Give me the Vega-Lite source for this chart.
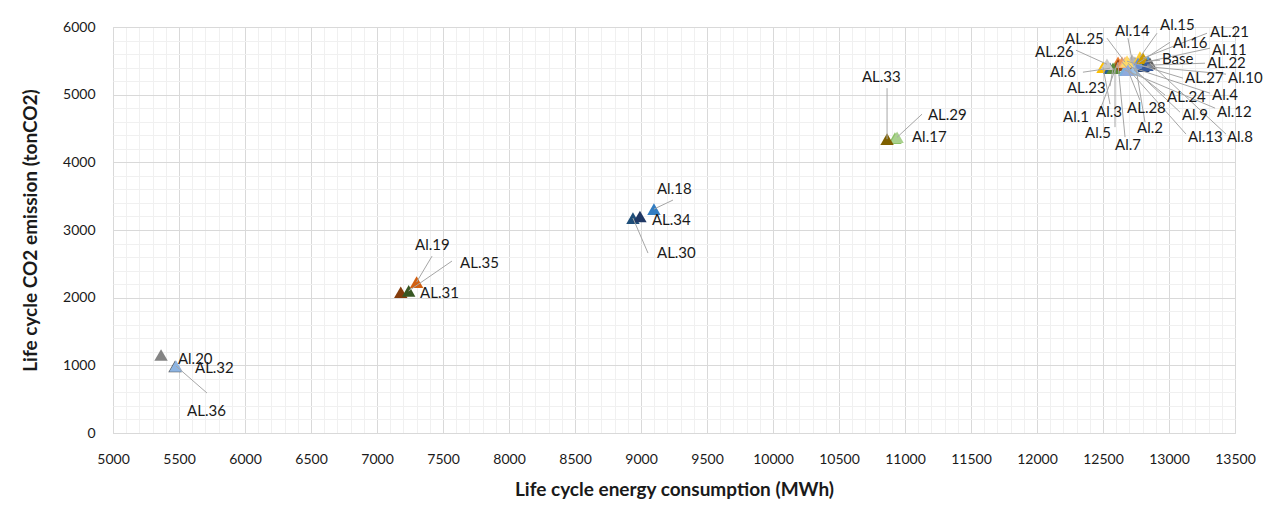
{
  "$schema": "https://vega.github.io/schema/vega-lite/v6.json",
  "width": 1122,
  "height": 406,
  "autosize": {"type": "none"},
  "padding": {"left": 113, "top": 27, "right": 34, "bottom": 77},
  "background": "white",
  "config": {
    "view": {"stroke": "#d9d9d9"},
    "font": "Lato",
    "axis": {"labelFont": "Lato", "titleFont": "Lato"}
  },
  "data": {"values": [
    {"name": "Base", "x": 12841, "y": 5495, "lx": 12947, "ly": 5524, "ex": 12932, "ey": 5510},
    {"name": "Al.1", "x": 12614, "y": 5480, "lx": 12197, "ly": 4668, "ex": 12477, "ey": 4771},
    {"name": "Al.2", "x": 12742, "y": 5480, "lx": 12758, "ly": 4505, "ex": 12818, "ey": 4594},
    {"name": "Al.3", "x": 12500, "y": 5406, "lx": 12447, "ly": 4742, "ex": 12553, "ey": 4860},
    {"name": "Al.4", "x": 12712, "y": 5406, "lx": 13326, "ly": 4993, "ex": 13311, "ey": 5022},
    {"name": "Al.5", "x": 12591, "y": 5391, "lx": 12364, "ly": 4431, "ex": 12591, "ey": 4520},
    {"name": "Al.6", "x": 12553, "y": 5391, "lx": 12099, "ly": 5332, "ex": 12348, "ey": 5332},
    {"name": "Al.7", "x": 12614, "y": 5436, "lx": 12591, "ly": 4254, "ex": 12667, "ey": 4372},
    {"name": "Al.8", "x": 12856, "y": 5465, "lx": 13439, "ly": 4372, "ex": 13432, "ey": 4417},
    {"name": "Al.9", "x": 12689, "y": 5465, "lx": 13098, "ly": 4697, "ex": 13083, "ey": 4742},
    {"name": "Al.10", "x": 12803, "y": 5421, "lx": 13447, "ly": 5244, "ex": 13432, "ey": 5303},
    {"name": "Al.11", "x": 12818, "y": 5480, "lx": 13326, "ly": 5657, "ex": 13311, "ey": 5687},
    {"name": "Al.12", "x": 12667, "y": 5362, "lx": 13364, "ly": 4742, "ex": 13349, "ey": 4801},
    {"name": "Al.13", "x": 12644, "y": 5480, "lx": 13144, "ly": 4372, "ex": 13129, "ey": 4417},
    {"name": "Al.14", "x": 12720, "y": 5510, "lx": 12591, "ly": 5938, "ex": 12689, "ey": 5835},
    {"name": "Al.15", "x": 12780, "y": 5554, "lx": 12932, "ly": 6027, "ex": 12909, "ey": 5908},
    {"name": "Al.16", "x": 12765, "y": 5465, "lx": 13030, "ly": 5761, "ex": 13008, "ey": 5775},
    {"name": "Al.17", "x": 10924, "y": 4357, "lx": 11053, "ly": 4372, "ex": null, "ey": null},
    {"name": "Al.18", "x": 9098, "y": 3309, "lx": 9121, "ly": 3604, "ex": 9242, "ey": 3442},
    {"name": "Al.19", "x": 7300, "y": 2230, "lx": 7288, "ly": 2777, "ex": 7417, "ey": 2614},
    {"name": "Al.20", "x": 5364, "y": 1152, "lx": 5492, "ly": 1093, "ex": null, "ey": null},
    {"name": "AL.21", "x": 12803, "y": 5539, "lx": 13311, "ly": 5923, "ex": 13288, "ey": 5908},
    {"name": "AL.22", "x": 12833, "y": 5436, "lx": 13288, "ly": 5465, "ex": 13273, "ey": 5465},
    {"name": "AL.23", "x": 12576, "y": 5391, "lx": 12227, "ly": 5096, "ex": 12553, "ey": 5126},
    {"name": "AL.24", "x": 12735, "y": 5362, "lx": 12985, "ly": 4963, "ex": 12970, "ey": 4993},
    {"name": "AL.25", "x": 12667, "y": 5480, "lx": 12212, "ly": 5820, "ex": 12530, "ey": 5835},
    {"name": "AL.26", "x": 12530, "y": 5450, "lx": 11985, "ly": 5628, "ex": 12295, "ey": 5657},
    {"name": "AL.27", "x": 12682, "y": 5495, "lx": 13121, "ly": 5244, "ex": 13106, "ey": 5244},
    {"name": "AL.28", "x": 12689, "y": 5362, "lx": 12682, "ly": 4801, "ex": 12780, "ey": 4919},
    {"name": "AL.29", "x": 10940, "y": 4370, "lx": 11174, "ly": 4697, "ex": 11129, "ey": 4712},
    {"name": "AL.30", "x": 8939, "y": 3176, "lx": 9121, "ly": 2659, "ex": 9053, "ey": 2659},
    {"name": "AL.31", "x": 7180, "y": 2080, "lx": 7326, "ly": 2068, "ex": null, "ey": null},
    {"name": "AL.32", "x": 5470, "y": 985, "lx": 5621, "ly": 960, "ex": null, "ey": null},
    {"name": "AL.33", "x": 10864, "y": 4343, "lx": 10674, "ly": 5258, "ex": 10864, "ey": 5096},
    {"name": "AL.34", "x": 8992, "y": 3200, "lx": 9083, "ly": 3146, "ex": null, "ey": null},
    {"name": "AL.35", "x": 7240, "y": 2100, "lx": 7629, "ly": 2511, "ex": 7568, "ey": 2541},
    {"name": "AL.36", "x": 5477, "y": 990, "lx": 5561, "ly": 325, "ex": 5712, "ey": 591}
  ]},
  "layer": [
    {
      "mark": {"type": "point", "opacity": 0},
      "encoding": {
        "x": {"field": "x", "type": "quantitative", "scale": {"domain": [5000, 13500], "nice": false, "zero": false},
          "axis": {"orient": "bottom", "values": [5100,5200,5300,5400,5600,5700,5800,5900,6100,6200,6300,6400,6600,6700,6800,6900,7100,7200,7300,7400,7600,7700,7800,7900,8100,8200,8300,8400,8600,8700,8800,8900,9100,9200,9300,9400,9600,9700,9800,9900,10100,10200,10300,10400,10600,10700,10800,10900,11100,11200,11300,11400,11600,11700,11800,11900,12100,12200,12300,12400,12600,12700,12800,12900,13100,13200,13300,13400],
            "grid": true, "gridColor": "#f0f0f0", "gridWidth": 1, "labels": false, "ticks": false, "domain": false, "title": null}},
        "y": {"field": "y", "type": "quantitative", "scale": {"domain": [0, 6000], "nice": false},
          "axis": {"orient": "left", "values": [200,400,600,800,1200,1400,1600,1800,2200,2400,2600,2800,3200,3400,3600,3800,4200,4400,4600,4800,5200,5400,5600,5800],
            "grid": true, "gridColor": "#f0f0f0", "gridWidth": 1, "labels": false, "ticks": false, "domain": false, "title": null}}
      }
    },
    {
      "mark": {"type": "point", "shape": "triangle-up", "filled": true, "size": 180, "opacity": 1},
      "encoding": {
        "x": {"field": "x", "type": "quantitative",
          "axis": {"orient": "bottom", "values": [5000,5500,6000,6500,7000,7500,8000,8500,9000,9500,10000,10500,11000,11500,12000,12500,13000,13500], "format": "d",
            "grid": true, "gridColor": "#d9d9d9", "ticks": false, "domain": true, "domainColor": "#d9d9d9",
            "labelFontSize": 14, "labelColor": "#1a1a1a", "labelPadding": 19, "labelOverlap": false, "labelFlush": false, "labelAngle": 0,
            "title": "Life cycle energy consumption (MWh)", "titleFontSize": 19, "titleFontWeight": "bold", "titleColor": "#1a1a1a", "titlePadding": 14}},
        "y": {"field": "y", "type": "quantitative",
          "axis": {"orient": "left", "values": [0,1000,2000,3000,4000,5000,6000], "format": "d",
            "grid": true, "gridColor": "#d9d9d9", "ticks": false, "domain": false,
            "labelFontSize": 14, "labelColor": "#1a1a1a", "labelPadding": 18, "labelOverlap": false, "labelFlush": false,
            "title": "Life cycle CO2 emission (tonCO2)", "titleFontSize": 19, "titleFontWeight": "bold", "titleColor": "#1a1a1a", "titlePadding": 22}},
        "color": {"field": "name", "type": "nominal", "legend": null,
          "scale": {"domain": ["Base","Al.1","Al.2","Al.3","Al.4","Al.5","Al.6","Al.7","Al.8","Al.9","Al.10","Al.11","Al.12","Al.13","Al.14","Al.15","Al.16","Al.17","Al.18","Al.19","Al.20","AL.21","AL.22","AL.23","AL.24","AL.25","AL.26","AL.27","AL.28","AL.29","AL.30","AL.31","AL.32","AL.33","AL.34","AL.35","AL.36"],
            "range": ["#5B9BD5","#ED7D31","#A5A5A5","#FFC000","#4472C4","#70AD47","#255E91","#9E480E","#636363","#997300","#264478","#43682B","#7CAFDD","#F1975A","#B7B7B7","#FFCD33","#698ED0","#8CC168","#327DC2","#D26012","#848484","#CC9A00","#3A5C9C","#5A8A39","#9DC3E6","#F4B183","#C9C9C9","#FFD966","#8FAADC","#A9D18E","#1F4E79","#843C0C","#525252","#7F6000","#203864","#385723","#8DB4E2"]}}
      }
    },
    {
      "transform": [{"filter": "datum.ex != null"}],
      "mark": {"type": "rule", "color": "#a6a6a6", "strokeWidth": 1},
      "encoding": {
        "x": {"field": "x", "type": "quantitative", "axis": null},
        "y": {"field": "y", "type": "quantitative", "axis": null},
        "x2": {"field": "ex"},
        "y2": {"field": "ey"}
      }
    },
    {
      "mark": {"type": "text", "align": "left", "baseline": "middle", "fontSize": 15, "font": "Lato", "color": "#1a1a1a", "clip": false},
      "encoding": {
        "x": {"field": "lx", "type": "quantitative", "axis": null},
        "y": {"field": "ly", "type": "quantitative", "axis": null},
        "text": {"field": "name"}
      }
    }
  ],
  "resolve": {"axis": {"x": "independent", "y": "independent"}}
}
